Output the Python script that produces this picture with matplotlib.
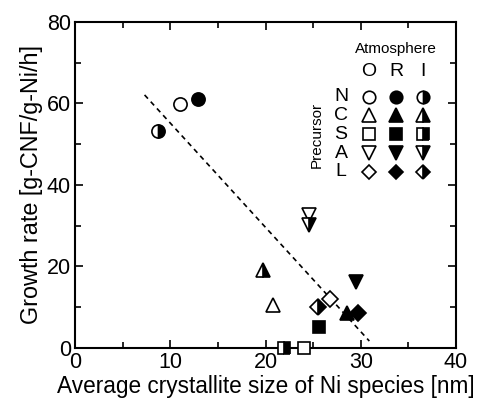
import matplotlib
matplotlib.use("Agg")
import matplotlib.pyplot as plt
from matplotlib.ticker import MultipleLocator

plt.rcParams['font.family'] = ['Liberation Sans', 'DejaVu Sans']

# Data: (precursor, atmosphere, size nm, growth rate)
precursor = ['N', 'N', 'N', 'C', 'C', 'C', 'S', 'S', 'S', 'A', 'A', 'A', 'L', 'L', 'L']
atmosphere = ['O', 'R', 'I', 'O', 'R', 'I', 'O', 'R', 'I', 'O', 'R', 'I', 'O', 'R', 'I']
size_nm = [11.0, 12.9, 8.7, 20.8, 28.6, 19.7, 24.0, 25.6, 21.9, 24.6, 29.5, 24.6, 26.8, 29.7, 25.5]
growth = [59.9, 61.0, 53.3, 10.5, 8.6, 19.1, 0.0, 5.2, 0.0, 32.6, 16.2, 30.2, 12.0, 8.6, 10.1]

fit_x = [7.3, 30.9]
fit_y = [62.1, 1.7]

markers = {'N': 'o', 'C': '^', 'S': 's', 'A': 'v', 'L': 'D'}
msizes = {'N': 9.5, 'C': 10, 'S': 9, 'A': 10, 'L': 8}
fills = {'O': 'none', 'R': 'full', 'I': 'right'}
prec_order = ['N', 'C', 'S', 'A', 'L']
atm_order = ['O', 'R', 'I']

fig = plt.figure(figsize=(4.78, 4.07), dpi=100)
ax = fig.add_axes([0.157, 0.145, 0.797, 0.801])

ax.plot(fit_x, fit_y, linestyle=(0, (3, 2.5)), color='black', lw=1.2, zorder=1)

for p, a, x, y in zip(precursor, atmosphere, size_nm, growth):
    fs = fills[a]
    kw = dict(marker=markers[p], markersize=msizes[p], markeredgecolor='black',
              markeredgewidth=1.2, linestyle='none', zorder=3, clip_on=False)
    if fs == 'none':
        ax.plot([x], [y], markerfacecolor='white', **kw)
    elif fs == 'full':
        ax.plot([x], [y], markerfacecolor='black', **kw)
    else:
        ax.plot([x], [y], fillstyle='right', markerfacecolor='black',
                markerfacecoloralt='white', **kw)

# Legend grid
col_x = [0.772, 0.843, 0.913]
row_y = [0.770, 0.714, 0.656, 0.598, 0.540]
ax.text(0.843, 0.917, 'Atmosphere', transform=ax.transAxes, ha='center', va='center', fontsize=11)
for cx, a in zip(col_x, atm_order):
    ax.text(cx, 0.848, a, transform=ax.transAxes, ha='center', va='center', fontsize=14)
for ry, p in zip(row_y, prec_order):
    ax.text(0.698, ry, p, transform=ax.transAxes, ha='center', va='center', fontsize=14)
    for cx, a in zip(col_x, atm_order):
        fs = fills[a]
        kw = dict(marker=markers[p], markersize=msizes[p] - 0.5, markeredgecolor='black',
                  markeredgewidth=1.2, linestyle='none', transform=ax.transAxes, zorder=3)
        if fs == 'none':
            ax.plot([cx], [ry], markerfacecolor='white', **kw)
        elif fs == 'full':
            ax.plot([cx], [ry], markerfacecolor='black', **kw)
        else:
            ax.plot([cx], [ry], fillstyle='right', markerfacecolor='black',
                    markerfacecoloralt='white', **kw)
ax.text(0.635, 0.655, 'Precursor', transform=ax.transAxes, ha='center', va='center',
        rotation=90, fontsize=11)

ax.set_xlim(0, 40)
ax.set_ylim(0, 80)
ax.xaxis.set_major_locator(MultipleLocator(10))
ax.xaxis.set_minor_locator(MultipleLocator(5))
ax.yaxis.set_major_locator(MultipleLocator(20))
ax.yaxis.set_minor_locator(MultipleLocator(10))
ax.tick_params(which='both', direction='in', top=True, right=True, labelsize=15.5, width=1.2, pad=3)
ax.tick_params(which='major', length=6)
ax.tick_params(which='minor', length=4)
for s in ax.spines.values():
    s.set_linewidth(1.5)

ax.set_xlabel('Average crystallite size of Ni species [nm]', fontsize=16.3, labelpad=1)
ax.set_ylabel('Growth rate [g-CNF/g-Ni/h]', fontsize=16.8, labelpad=3)

fig.savefig('out.png', dpi=100)
